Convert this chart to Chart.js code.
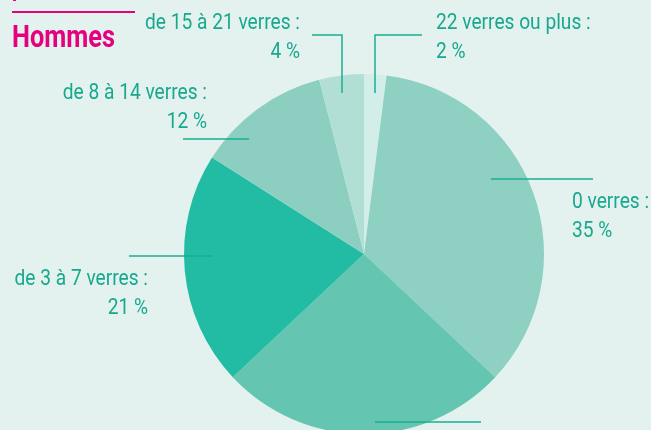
<!DOCTYPE html>
<html><head><meta charset="utf-8">
<script src="https://cdn.jsdelivr.net/npm/chart.js@4/dist/chart.umd.min.js"></script>
<style>
html,body{margin:0;padding:0;background:#e3f2ef;overflow:hidden;width:651px;height:430px}
#wrap{position:relative;width:651px;height:470px}
</style></head><body>
<div id="wrap"><canvas id="c" width="651" height="470"></canvas></div>
<script>
const categories = ["22 verres ou plus", "0 verres", "de 1 à 2 verres", "de 3 à 7 verres", "de 8 à 14 verres", "de 15 à 21 verres"];
const values = [2, 35, 26, 21, 12, 4];
const colors = ["#d3eee8", "#8ed1c3", "#64c5b1", "#22bca4", "#8ccfc1", "#b2dfd5"];
const title = "Hommes";

const TXT = "#17a88e";
const FONT = '22px Roboto, "Open Sans", sans-serif';

// label layout relative to pie centre (dx, dy), align, leader line polyline
const layout = [
  {tx: 72, ty: -225, align: "left", line: [[58,-219],[11,-219],[11,-161]]},
  {tx: 208, ty: -46, align: "left", line: [[127,-75],[229,-75]]},
  {tx: 60, ty: 196, align: "left", line: [[11,168],[117,168]]},
  {tx: -216, ty: 31, align: "right", line: [[-235,2],[-151,2]]},
  {tx: -157, ty: -155, align: "right", line: [[-181,-115],[-115,-115]]},
  {tx: -64, ty: -225, align: "right", line: [[-52,-219],[-22,-219],[-22,-161]]}
];

function squeezedText(ctx, text, x, y, sx) {
  ctx.save();
  ctx.translate(x, y);
  ctx.scale(sx, 1);
  ctx.fillText(text, 0, 0);
  ctx.restore();
}

const labelPlugin = {
  id: "labels",
  afterDatasetsDraw(chart) {
    const ctx = chart.ctx;
    const arc = chart.getDatasetMeta(0).data[0];
    const cx = arc.x, cy = arc.y;
    ctx.save();
    ctx.font = FONT;
    const sx = 155 / ctx.measureText("de 15 à 21 verres :").width;
    ctx.fillStyle = TXT;
    ctx.strokeStyle = "#1aae94";
    ctx.lineWidth = 1.5;
    categories.forEach((cat, i) => {
      const L = layout[i];
      ctx.textAlign = L.align;
      ctx.textBaseline = "alphabetic";
      squeezedText(ctx, cat + " :", cx + L.tx, cy + L.ty, sx);
      squeezedText(ctx, values[i] + " %", cx + L.tx, cy + L.ty + 29, sx);
      ctx.beginPath();
      L.line.forEach((p, k) => {
        const x = cx + p[0], y = cy + p[1];
        if (k === 0) ctx.moveTo(x, y); else ctx.lineTo(x, y);
      });
      ctx.stroke();
    });
    // title
    ctx.fillStyle = "#e5007e";
    ctx.fillRect(12, 11, 123, 2);
    ctx.fillRect(13, 0, 3, 1);
    ctx.font = 'bold 31px Roboto, "Open Sans", sans-serif';
    ctx.textAlign = "left";
    const tsx = 103 / ctx.measureText(title).width;
    squeezedText(ctx, title, 12, 47, tsx);
    ctx.restore();
  }
};

new Chart(document.getElementById("c"), {
  type: "pie",
  data: {
    labels: categories,
    datasets: [{ data: values, backgroundColor: colors, borderWidth: 0 }]
  },
  options: {
    responsive: false,
    animation: false,
    layout: { padding: { left: 184, right: 107, top: 74, bottom: 36 } },
    plugins: { legend: { display: false }, tooltip: { enabled: false } }
  },
  plugins: [labelPlugin]
});
</script>
</body></html>
